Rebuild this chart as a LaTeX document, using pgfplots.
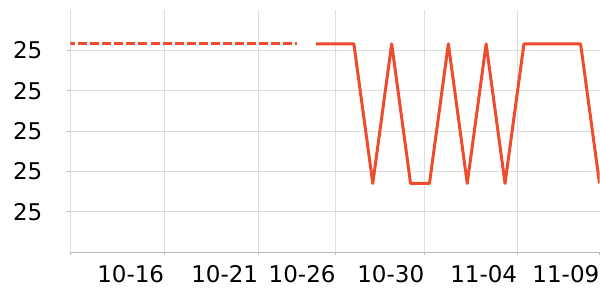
\documentclass[border=0pt]{standalone}
\usepackage{fontspec}
\setmainfont{DejaVu Sans}
\usepackage{pgfplots}
\pgfplotsset{compat=1.18}
\definecolor{lineC}{RGB}{238,76,44}
\definecolor{gridC}{RGB}{222,222,222}
\definecolor{axC}{RGB}{185,185,185}
\begin{document}
\begin{tikzpicture}[x=1pt,y=1pt]
\useasboundingbox (-70.5,-48) rectangle (529.5,252);
\begin{axis}[
  at={(0,0)}, anchor=south west, scale only axis,
  width=529pt, height=242pt,
  xmin=0, xmax=28, ymin=24.85, ymax=25.15,
  axis x line*=bottom, axis y line*=left,
  y axis line style={draw=none},
  x axis line style={draw=axC, line width=0.9pt, -},
  xtick={0,4.965,9.94,14.04,18.73,23.65},
  xticklabels={,10-16,10-21,10-26,10-30,11-04},
  extra x ticks={28},
  extra x tick labels={11-09},
  extra x tick style={grid=none},
  ytick={24.9,24.95,25,25.05,25.1},
  yticklabels={25,25,25,25,25},
  grid=major,
  major grid style={draw=gridC, line width=0.8pt},
  tick align=outside, major tick length=3pt,
  tick style={draw=axC, line width=0.8pt},
  ticklabel style={font=\fontsize{23}{27}\selectfont},
  xticklabel style={anchor=north east, inner sep=0pt, yshift=-10pt},
  yticklabel style={anchor=east, inner sep=0pt, xshift=-25pt},
]
\addplot[lineC, line width=3pt, dash pattern=on 9pt off 3pt, dash phase=4pt] coordinates {
(0,25.108) (1,25.108) (2,25.108) (3,25.108) (4,25.108) (5,25.108) (6,25.108)
(7,25.108) (8,25.108) (9,25.108) (10,25.108) (11,25.108) (12,25.108)
};
\addplot[lineC, line width=3pt, line join=round] coordinates {
(13,25.108) (14,25.108) (15,25.108) (16,24.935) (17,25.108) (18,24.935)
(19,24.935) (20,25.108) (21,24.935) (22,25.108) (23,24.935) (24,25.108)
(25,25.108) (26,25.108) (27,25.108) (28,24.935)
};
\end{axis}
\end{tikzpicture}
\end{document}
